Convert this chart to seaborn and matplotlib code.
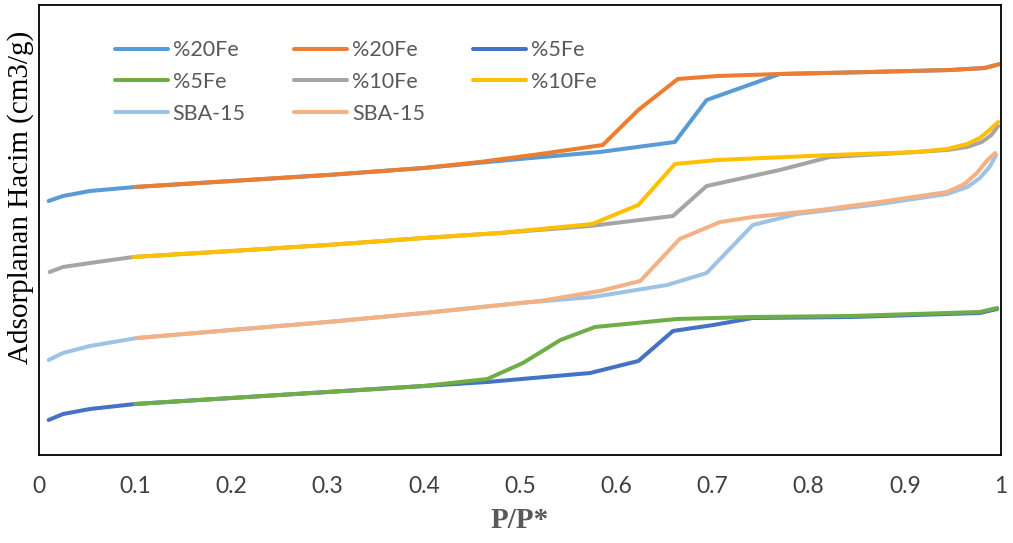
import pandas as pd
import matplotlib
matplotlib.use("Agg")
import matplotlib.pyplot as plt
import seaborn as sns

# isotherm data (relative pressure, adsorbed volume in arbitrary units)
fe20_ads_x = [0.01, 0.025, 0.053, 0.10, 0.20, 0.30, 0.40, 0.50, 0.583, 0.661, 0.694, 0.77, 0.864, 0.947, 0.983, 0.999]
fe20_ads_y = [254, 259, 264, 268, 274, 280, 287, 296, 303, 313, 355, 381, 383, 385, 387, 391]
fe20_des_x = [0.10, 0.20, 0.30, 0.40, 0.458, 0.521, 0.586, 0.623, 0.664, 0.705, 0.77, 0.864, 0.947, 0.983, 0.999]
fe20_des_y = [268, 274, 280, 287, 293, 301, 310, 345, 376, 379, 381, 383, 385, 387, 391]

fe5_ads_x = [0.01, 0.025, 0.053, 0.10, 0.20, 0.30, 0.40, 0.466, 0.573, 0.623, 0.659, 0.701, 0.742, 0.843, 0.944, 0.978, 0.996]
fe5_ads_y = [35, 41, 46, 51, 57, 63, 69, 73, 82, 94, 124, 130, 137, 138, 141, 142, 146]
fe5_des_x = [0.10, 0.20, 0.30, 0.40, 0.466, 0.503, 0.542, 0.578, 0.663, 0.742, 0.843, 0.944, 0.978, 0.996]
fe5_des_y = [51, 57, 63, 69, 76, 92, 115, 128, 136, 138, 139, 142, 143, 147]

fe10_ads_x = [0.011, 0.025, 0.053, 0.098, 0.20, 0.30, 0.40, 0.479, 0.573, 0.659, 0.694, 0.77, 0.822, 0.895, 0.944, 0.965, 0.98, 0.99, 0.997]
fe10_ads_y = [183, 188, 192, 198, 204, 210, 217, 222, 229, 239, 269, 285, 298, 302, 305, 308, 313, 320, 329]
fe10_des_x = [0.098, 0.20, 0.30, 0.40, 0.479, 0.575, 0.623, 0.661, 0.705, 0.825, 0.913, 0.944, 0.965, 0.978, 0.988, 0.997]
fe10_des_y = [198, 204, 210, 217, 222, 231, 250, 291, 295, 300, 303, 306, 311, 317, 325, 333]

sba_ads_x = [0.01, 0.025, 0.053, 0.102, 0.20, 0.30, 0.40, 0.50, 0.576, 0.653, 0.694, 0.742, 0.788, 0.874, 0.944, 0.965, 0.978, 0.988, 0.995]
sba_ads_y = [95, 102, 109, 117, 125, 133, 142, 152, 158, 170, 182, 230, 241, 251, 261, 268, 277, 288, 300]
sba_des_x = [0.102, 0.20, 0.30, 0.40, 0.521, 0.583, 0.625, 0.666, 0.708, 0.742, 0.812, 0.874, 0.944, 0.962, 0.975, 0.985, 0.994]
sba_des_y = [117, 125, 133, 142, 154, 164, 174, 216, 233, 238, 245, 253, 263, 271, 282, 294, 302]

series = [
    ("%20Fe", "#5B9BD5", fe20_ads_x, fe20_ads_y),
    ("%20Fe", "#ED7D31", fe20_des_x, fe20_des_y),
    ("%5Fe", "#4472C4", fe5_ads_x, fe5_ads_y),
    ("%5Fe", "#70AD47", fe5_des_x, fe5_des_y),
    ("%10Fe", "#A5A5A5", fe10_ads_x, fe10_ads_y),
    ("%10Fe", "#FFC000", fe10_des_x, fe10_des_y),
    ("SBA-15", "#9DC3E6", sba_ads_x, sba_ads_y),
    ("SBA-15", "#F4B183", sba_des_x, sba_des_y),
]

sns.set_style("white")

fig = plt.figure(figsize=(10.13, 5.43), dpi=100)
ax = fig.add_axes([39 / 1013, 88 / 543, 962 / 1013, 450 / 543])

handles = []
for name, color, xs, ys in series:
    df = pd.DataFrame({"P/P*": xs, "V": ys})
    sns.lineplot(data=df, x="P/P*", y="V", color=color, linewidth=2.9,
                 sort=False, ax=ax, label=name, solid_capstyle="round")
    handles.append(ax.lines[-1])

ax.set_xlim(0, 1)
ax.set_ylim(0, 450)
ax.set_xticks([i / 10 for i in range(11)])
ax.set_xticklabels(["0", "0.1", "0.2", "0.3", "0.4", "0.5", "0.6", "0.7", "0.8", "0.9", "1"])
ax.set_yticks([])
ax.tick_params(axis="x", length=0, pad=15, labelsize=16.5, labelcolor="#404040")
for lbl in ax.get_xticklabels():
    lbl.set_family(["Lato", "DejaVu Sans"])

for sp in ax.spines.values():
    sp.set_color("black")
    sp.set_linewidth(1.3)

ax.set_xlabel("P/P*", family=["Liberation Serif", "DejaVu Serif"], fontweight="bold",
              fontsize=21, color="#595959", labelpad=7)
ax.set_ylabel("Adsorplanan Hacim (cm3/g)", family=["Liberation Serif", "DejaVu Serif"],
              fontsize=21, color="black")
ax.yaxis.set_label_coords(-0.0195, 0.573)
ax.yaxis.label.set_va("center")

# Excel-style row-wise legend order, re-ordered for column-wise filling
order = [0, 3, 6, 1, 4, 7, 2, 5]
leg = ax.legend([handles[i] for i in order], [series[i][0] for i in order],
                ncol=3, loc="upper left", bbox_to_anchor=(0.079, 0.922),
                frameon=False, borderpad=0, borderaxespad=0,
                handlelength=2.45, handletextpad=0.23, columnspacing=2.25,
                labelspacing=0.55, prop={"family": ["Lato", "DejaVu Sans"], "size": 15.5})
for t in leg.get_texts():
    t.set_color("#595959")

fig.savefig("out.png", dpi=100)
